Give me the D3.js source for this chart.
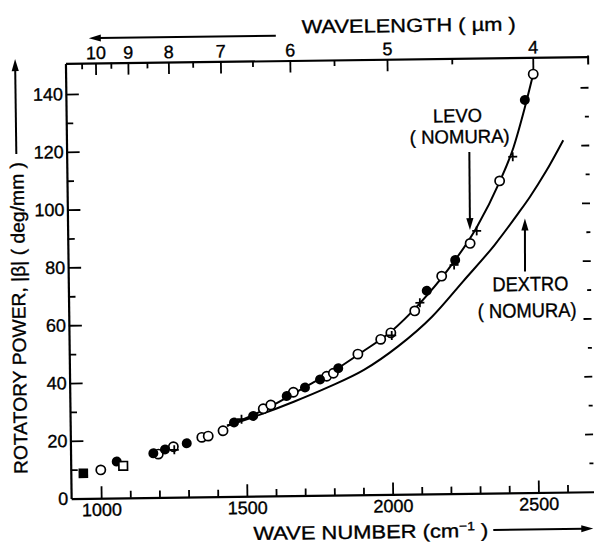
<!DOCTYPE html>
<html><head><meta charset="utf-8">
<script src="https://cdn.jsdelivr.net/npm/d3@7"></script>
<style>
html,body{margin:0;padding:0;background:#fff;}
svg text{font-family:"Liberation Sans",Arial,sans-serif;fill:#000;stroke:#000;stroke-width:0.35px;}
</style></head><body>
<svg id="chart" width="594" height="544"></svg>
<script>
// ---------- data ----------
const filledCircles = [[1055,12.6],[1181,15.3],[1221,16.6],[1296,18.6],[1459,25.6],[1525,27.8],[1641,34.5],[1704,37.4],[1756,40.1],[1819,43.9],[2126,70.3],[2225,80.8],[2471,135.9]];
const openCircles = [[1000,9.8],[1198,15.0],[1250,17.5],[1348,20.6],[1370,21.0],[1421,22.8],[1560,30.2],[1586,31.5],[1664,35.8],[1779,41.2],[1802,42.2],[1887,48.7],[1966,53.7],[2001,55.9],[2084,63.4],[2178,75.3],[2277,86.5],[2381,108.0],[2501,144.8]];
const crosses = [[1253,16.4],[1485,26.7],[2004,55.0],[2102,66.2],[2221,79.1],[2300,90.8],[2427,116.3]];
const openSquares = [[1077,11.1]];
const filledSquares = [[940,8.7]];
const levoCurve = [[1435,24.5],[1500,27.0],[1600,31.8],[1700,37.3],[1800,42.8],[1900,49.3],[2000,56.2],[2100,65.8],[2200,77.5],[2300,92.0],[2380,107.5],[2430,119.5],[2470,133.0],[2501,144.8]];
const dextroCurve = [[1435,24.5],[1549,28.2],[1665,32.5],[1782,37.3],[1907,43.2],[2024,51.1],[2143,61.3],[2252,73.5],[2362,86.0],[2442,96.5],[2484,102.3],[2540,111.0],[2601,121.8]];
const wavenumberMajor = [1000,1500,2000,2500];
const wavenumberMinor = [900,1100,1200,1300,1400,1600,1700,1800,1900,2100,2200,2300,2400,2600];
const wavelengthMajor = [10,9,8,7,6,5,4];
const wavelengthMinor = [10.5,9.5,8.5,7.5,6.5,5.5,4.5];
const powerMajor = [0,20,40,60,80,100,120,140];
const powerMinor = [10,30,50,70,90,110,130];
const rightTicks = [10,20,30,40,50,60,70,80,90,100,110,120,130,140];
const levoArrowTip = [2277,91.1];
const dextroArrowTip = [2466,94.9];

// ---------- layout ----------
const L = 68.3, R = 591, T = 60, B = 495.2;
const svg = d3.select("#chart");
const g = svg.append("g").attr("transform","rotate(-0.75,330,280)");
const x = d3.scaleLinear().domain([897,2690]).range([L,R]);
const y = d3.scaleLinear().domain([0,150.6]).range([B,T]);

function styleAxis(sel){
  sel.selectAll("path.domain").attr("stroke","#000").attr("stroke-width",2.2);
  sel.selectAll(".tick line").attr("stroke","#000").attr("stroke-width",1.8);
  sel.selectAll(".tick text").attr("font-size",18).attr("font-family","Liberation Sans, Arial, sans-serif").attr("fill","#000");
}

// bottom axis
const bx = g.append("g").attr("transform",`translate(0,${B})`)
  .call(d3.axisBottom(x).tickValues(wavenumberMajor).tickSizeInner(-12).tickSizeOuter(0).tickPadding(5).tickFormat(d3.format("d")));
styleAxis(bx);
const bxm = g.append("g").attr("transform",`translate(0,${B})`)
  .call(d3.axisBottom(x).tickValues(wavenumberMinor.filter(v=>x(v)>L+3)).tickSizeInner(-7).tickSizeOuter(0).tickFormat(""));
styleAxis(bxm); bxm.select("path.domain").remove();

// left axis
const ly = g.append("g").attr("transform",`translate(${L},0)`)
  .call(d3.axisLeft(y).tickValues(powerMajor).tickSizeInner(-13).tickSizeOuter(0).tickPadding(3));
styleAxis(ly);
ly.selectAll(".tick").filter(d=>d===0).select("line").remove();
const lym = g.append("g").attr("transform",`translate(${L},0)`)
  .call(d3.axisLeft(y).tickValues(powerMinor).tickSizeInner(-7).tickSizeOuter(0).tickFormat(""));
styleAxis(lym); lym.select("path.domain").remove();

// right ticks (no line)
const ry = g.append("g").attr("transform",`translate(${R},0)`)
  .call(d3.axisRight(y).tickValues(rightTicks).tickSizeOuter(0).tickFormat(""));
ry.select("path.domain").remove();
ry.selectAll(".tick line").attr("stroke","#000").attr("stroke-width",1.8)
  .attr("x2", d => d % 20 === 0 ? -8 : -4);

// top axis (wavelength in µm -> wavenumber 1e4/λ)
const tx = g.append("g").attr("transform",`translate(0,${T})`)
  .call(d3.axisTop(x).tickValues(wavelengthMajor.map(l=>1e4/l)).tickSizeInner(-12).tickSizeOuter(0).tickPadding(4)
    .tickFormat(d=>d3.format("d")(Math.round(1e4/d))));
styleAxis(tx);
const txm = g.append("g").attr("transform",`translate(0,${T})`)
  .call(d3.axisTop(x).tickValues(wavelengthMinor.map(l=>1e4/l)).tickSizeInner(-6).tickSizeOuter(0).tickFormat(""));
styleAxis(txm); txm.select("path.domain").remove();
// top-right corner stub
g.append("line").attr("x1",R).attr("x2",R).attr("y1",T-1).attr("y2",T+8).attr("stroke","#000").attr("stroke-width",2);

// curves
const line = d3.line().x(d=>x(d[0])).y(d=>y(d[1])).curve(d3.curveMonotoneX);
g.append("path").datum(levoCurve).attr("d",line).attr("fill","none").attr("stroke","#000").attr("stroke-width",2);
g.append("path").datum(dextroCurve).attr("d",line).attr("fill","none").attr("stroke","#000").attr("stroke-width",2);

// markers
const r = 4.6;
g.selectAll(".oc").data(openCircles).join("circle").attr("cx",d=>x(d[0])).attr("cy",d=>y(d[1])).attr("r",r)
  .attr("fill","#fff").attr("stroke","#000").attr("stroke-width",1.7);
g.selectAll(".fc").data(filledCircles).join("circle").attr("cx",d=>x(d[0])).attr("cy",d=>y(d[1])).attr("r",r+0.4)
  .attr("fill","#000");
g.selectAll(".os").data(openSquares).join("rect").attr("x",d=>x(d[0])-4.3).attr("y",d=>y(d[1])-4.3).attr("width",8.6).attr("height",8.6)
  .attr("fill","#fff").attr("stroke","#000").attr("stroke-width",1.7);
g.selectAll(".fs").data(filledSquares).join("rect").attr("x",d=>x(d[0])-4.8).attr("y",d=>y(d[1])-4.8).attr("width",9.6).attr("height",9.6)
  .attr("fill","#000");
g.selectAll(".cr").data(crosses).join("path")
  .attr("d",d=>{const cx=x(d[0]),cy=y(d[1]);return `M${cx-4.5},${cy}H${cx+4.5}M${cx},${cy-4.5}V${cy+4.5}`;})
  .attr("stroke","#000").attr("stroke-width",1.8).attr("fill","none");

// arrows helper
function arrow(x1,y1,x2,y2){
  const a = Math.atan2(y2-y1,x2-x1), hl=12, hw=3.6;
  g.append("line").attr("x1",x1).attr("y1",y1).attr("x2",x2-Math.cos(a)*hl*0.8).attr("y2",y2-Math.sin(a)*hl*0.8)
    .attr("stroke","#000").attr("stroke-width",2);
  const bx_=x2-Math.cos(a)*hl, by_=y2-Math.sin(a)*hl;
  g.append("path").attr("d",`M${x2},${y2}L${bx_-Math.sin(a)*hw},${by_+Math.cos(a)*hw}L${bx_+Math.sin(a)*hw},${by_-Math.cos(a)*hw}Z`)
    .attr("fill","#000");
}

// annotations
const lt = [x(levoArrowTip[0]), y(levoArrowTip[1])];
arrow(lt[0]+0.4, lt[1]-78, lt[0], lt[1]);
g.append("text").attr("x",lt[0]-11).attr("y",lt[1]-108).attr("text-anchor","middle").attr("font-size",19)
  .attr("textLength",49).attr("lengthAdjust","spacingAndGlyphs").text("LEVO");
g.append("text").attr("x",lt[0]-9).attr("y",lt[1]-87).attr("text-anchor","middle").attr("font-size",19)
  .attr("textLength",100).attr("lengthAdjust","spacingAndGlyphs").text("( NOMURA)");
const dt = [x(dextroArrowTip[0]), y(dextroArrowTip[1])];
arrow(dt[0]-0.6, dt[1]+53, dt[0], dt[1]);
g.append("text").attr("x",dt[0]+4.6).attr("y",dt[1]+72.5).attr("text-anchor","middle").attr("font-size",20)
  .attr("textLength",76).attr("lengthAdjust","spacingAndGlyphs").text("DEXTRO");
g.append("text").attr("x",dt[0]+1).attr("y",dt[1]+99).attr("text-anchor","middle").attr("font-size",20)
  .attr("textLength",99).attr("lengthAdjust","spacingAndGlyphs").text("( NOMURA)");

// axis titles
g.append("text").attr("x",305).attr("y",33).attr("font-size",19)
  .attr("textLength",214).attr("lengthAdjust","spacingAndGlyphs").text("WAVELENGTH ( µm )");
arrow(279,35,92,35);

const xt = g.append("text").attr("x",250).attr("y",539).attr("font-size",19)
  .attr("textLength",235).attr("lengthAdjust","spacingAndGlyphs");
xt.append("tspan").text("WAVE NUMBER (cm");
xt.append("tspan").attr("dy",-7).attr("font-size",12).text("−1");
xt.append("tspan").attr("dy",7).text(" )");
arrow(490,532,590,532);

g.append("text").attr("transform","translate(25,470) rotate(-90)").attr("font-size",19)
  .attr("textLength",312).attr("lengthAdjust","spacingAndGlyphs").text("ROTATORY POWER, |β| ( deg/mm )");
arrow(18,150,18,55);
</script>
</body></html>
